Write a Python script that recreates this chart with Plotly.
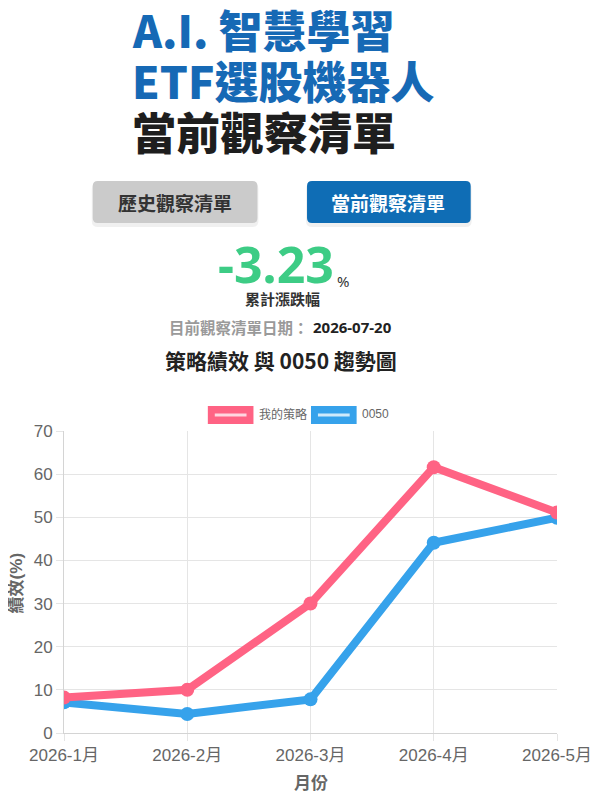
import plotly.graph_objects as go

months = ['2026-1月', '2026-2月', '2026-3月', '2026-4月', '2026-5月']
strategy = [8.2, 10.0, 30.0, 61.6, 51.1]
etf0050 = [7.1, 4.4, 7.8, 44.1, 49.9]
series_names = ['我的策略', '0050']
y_ticks = [0, 10, 20, 30, 40, 50, 60, 70]

PINK = '#ff6384'
BLUE = '#36a2eb'
CJK = 'Noto Sans CJK TC'
AXF = 'Liberation Sans, Noto Sans CJK TC'

# the page body has an 8px margin, so the figure starts at (8, 8) on screen
OFF = 8
W, H = 604 - OFF, 802 - OFF
L, R, T, B = 64 - OFF, 561 - OFF, 431 - OFF, 733 - OFF


def px(x):
    # x given in screen pixels
    return (x - OFF - L) / (R - L)


def py(y):
    return (B - (y - OFF)) / (B - T)


def rrect(x0, y0, x1, y1, r):
    pts = [
        f'M{px(x0 + r)},{py(y0)}',
        f'L{px(x1 - r)},{py(y0)}',
        f'Q{px(x1)},{py(y0)} {px(x1)},{py(y0 + r)}',
        f'L{px(x1)},{py(y1 - r)}',
        f'Q{px(x1)},{py(y1)} {px(x1 - r)},{py(y1)}',
        f'L{px(x0 + r)},{py(y1)}',
        f'Q{px(x0)},{py(y1)} {px(x0)},{py(y1 - r)}',
        f'L{px(x0)},{py(y0 + r)}',
        f'Q{px(x0)},{py(y0)} {px(x0 + r)},{py(y0)}',
        'Z',
    ]
    return ' '.join(pts)


fig = go.Figure()
fig.add_trace(go.Scatter(x=months, y=etf0050, name=series_names[1], mode='lines+markers',
                         line=dict(color=BLUE, width=8), marker=dict(color=BLUE, size=14)))
fig.add_trace(go.Scatter(x=months, y=strategy, name=series_names[0], mode='lines+markers',
                         line=dict(color=PINK, width=8), marker=dict(color=PINK, size=14)))

shapes = []
# buttons with soft shadow
for (x0, x1, col) in [(93, 259, '#cbcbcb'), (309, 474, '#0f6db5')]:
    shapes.append(dict(type='path', xref='paper', yref='paper', path=rrect(x0 - 1, 183, x1 + 1, 227, 6),
                       fillcolor='rgba(0,0,0,0.06)', line=dict(width=0), layer='below'))
    shapes.append(dict(type='path', xref='paper', yref='paper', path=rrect(x0, 181, x1, 223, 5),
                       fillcolor=col, line=dict(width=0)))
# legend boxes
for (x0, col, inner) in [(209, PINK, '#ffd6e0'), (313, BLUE, '#cfeafb')]:
    shapes.append(dict(type='rect', xref='paper', yref='paper', x0=px(x0), x1=px(x0 + 46),
                       y0=py(424), y1=py(406), fillcolor=col, line=dict(width=0)))
    shapes.append(dict(type='rect', xref='paper', yref='paper', x0=px(x0 + 7), x1=px(x0 + 39),
                       y0=py(416.5), y1=py(413.5), fillcolor=inner, line=dict(width=0)))

ann = []


def text(x, y, s, size, color, xanchor='center', family=CJK, weight='bold', angle=0):
    ann.append(dict(x=px(x), y=py(y), xref='paper', yref='paper', text=s, showarrow=False,
                    xanchor=xanchor, yanchor='middle', textangle=angle,
                    font=dict(family=family, size=size, color=color, weight=weight)))


text(131, 29, 'A.I. 智慧學習', 44, '#1669b5', 'left', weight=900)
text(131, 80, 'ETF選股機器人', 44, '#1669b5', 'left', weight=900)
text(131, 131, '當前觀察清單', 44, '#1e1e1e', 'left', weight=900)
text(176, 202, '歷史觀察清單', 19, '#333333')
text(391, 202, '當前觀察清單', 19, '#ffffff')
text(278, 264, '-3.23', 50, '#3dcc85', family='Noto Sans')
text(337, 281, '%', 15, '#333333', 'left', family='Noto Sans', weight='normal')
text(284, 298, '累計漲跌幅', 15, '#333333')
text(313, 327, '目前觀察清單日期：', 15.5, '#9a9a9a', 'right')
text(313, 327, '2026-07-20', 15, '#222222', 'left', family='Noto Sans')
text(283, 360, '策略績效 與 0050 趨勢圖', 21, '#222222')
text(259, 414, series_names[0], 12, '#666666', 'left', family=AXF, weight='normal')
text(362, 414, series_names[1], 12, '#666666', 'left', family=AXF, weight='normal')
text(16, 583, '績效(%)', 17, '#666666', family=AXF, angle=-90)
text(313, 783, '月份', 17, '#666666', family=AXF)

fig.update_layout(
    width=W, height=H,
    margin=dict(l=L, r=W - R, t=T, b=H - B),
    paper_bgcolor='white', plot_bgcolor='white',
    showlegend=False,
    shapes=shapes, annotations=ann,
    xaxis=dict(type='category', range=[0, 4], showgrid=True, gridcolor='#e5e5e5',
               ticks='outside', ticklen=7, tickcolor='#e5e5e5',
               tickfont=dict(family=AXF, size=17, color='#666666'),
               showline=True, linecolor='#d4d4d4', zeroline=False, fixedrange=True),
    yaxis=dict(range=[0, 70], tickvals=y_ticks, showgrid=True, gridcolor='#e5e5e5',
               ticks='outside', ticklen=7, tickcolor='#e5e5e5',
               tickfont=dict(family=AXF, size=17, color='#666666'),
               showline=True, linecolor='#d4d4d4', zeroline=False, fixedrange=True),
)

fig.write_html('out.html')
